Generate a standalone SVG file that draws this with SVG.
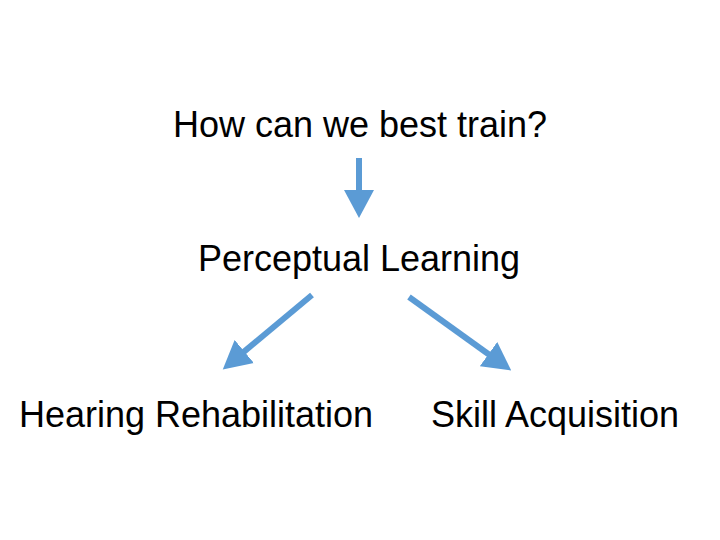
<svg xmlns="http://www.w3.org/2000/svg" width="720" height="540" viewBox="0 0 720 540">
<defs>
<style>
.t{font-family:"Liberation Sans",Arial,sans-serif;font-size:36px;fill:#000;text-anchor:middle}
.c{stroke:#5b9bd5;stroke-width:6;fill:none}
</style>
<marker id="ah" markerUnits="userSpaceOnUse" markerWidth="30" markerHeight="32" viewBox="0 -16 30 32" refX="1" refY="0" orient="auto">
<path d="M0,-15 L28,0 L0,15 Z" fill="#5b9bd5"/>
</marker>
</defs>
<rect width="720" height="540" fill="#fff"/>
<g id="n1"><text class="t" x="360" y="137">How can we best train?</text></g>
<g id="n2"><text class="t" x="359" y="271">Perceptual Learning</text></g>
<g id="n3"><text class="t" x="196" y="427">Hearing Rehabilitation</text></g>
<g id="n4"><text class="t" x="555" y="427">Skill Acquisition</text></g>
<g id="connectors">
<line class="c" x1="359" y1="158" x2="359" y2="191" marker-end="url(#ah)"/>
<line class="c" x1="312" y1="295" x2="243.5" y2="352.1" marker-end="url(#ah)"/>
<line class="c" x1="409" y1="297" x2="489.3" y2="354.7" marker-end="url(#ah)"/>
</g>
</svg>
